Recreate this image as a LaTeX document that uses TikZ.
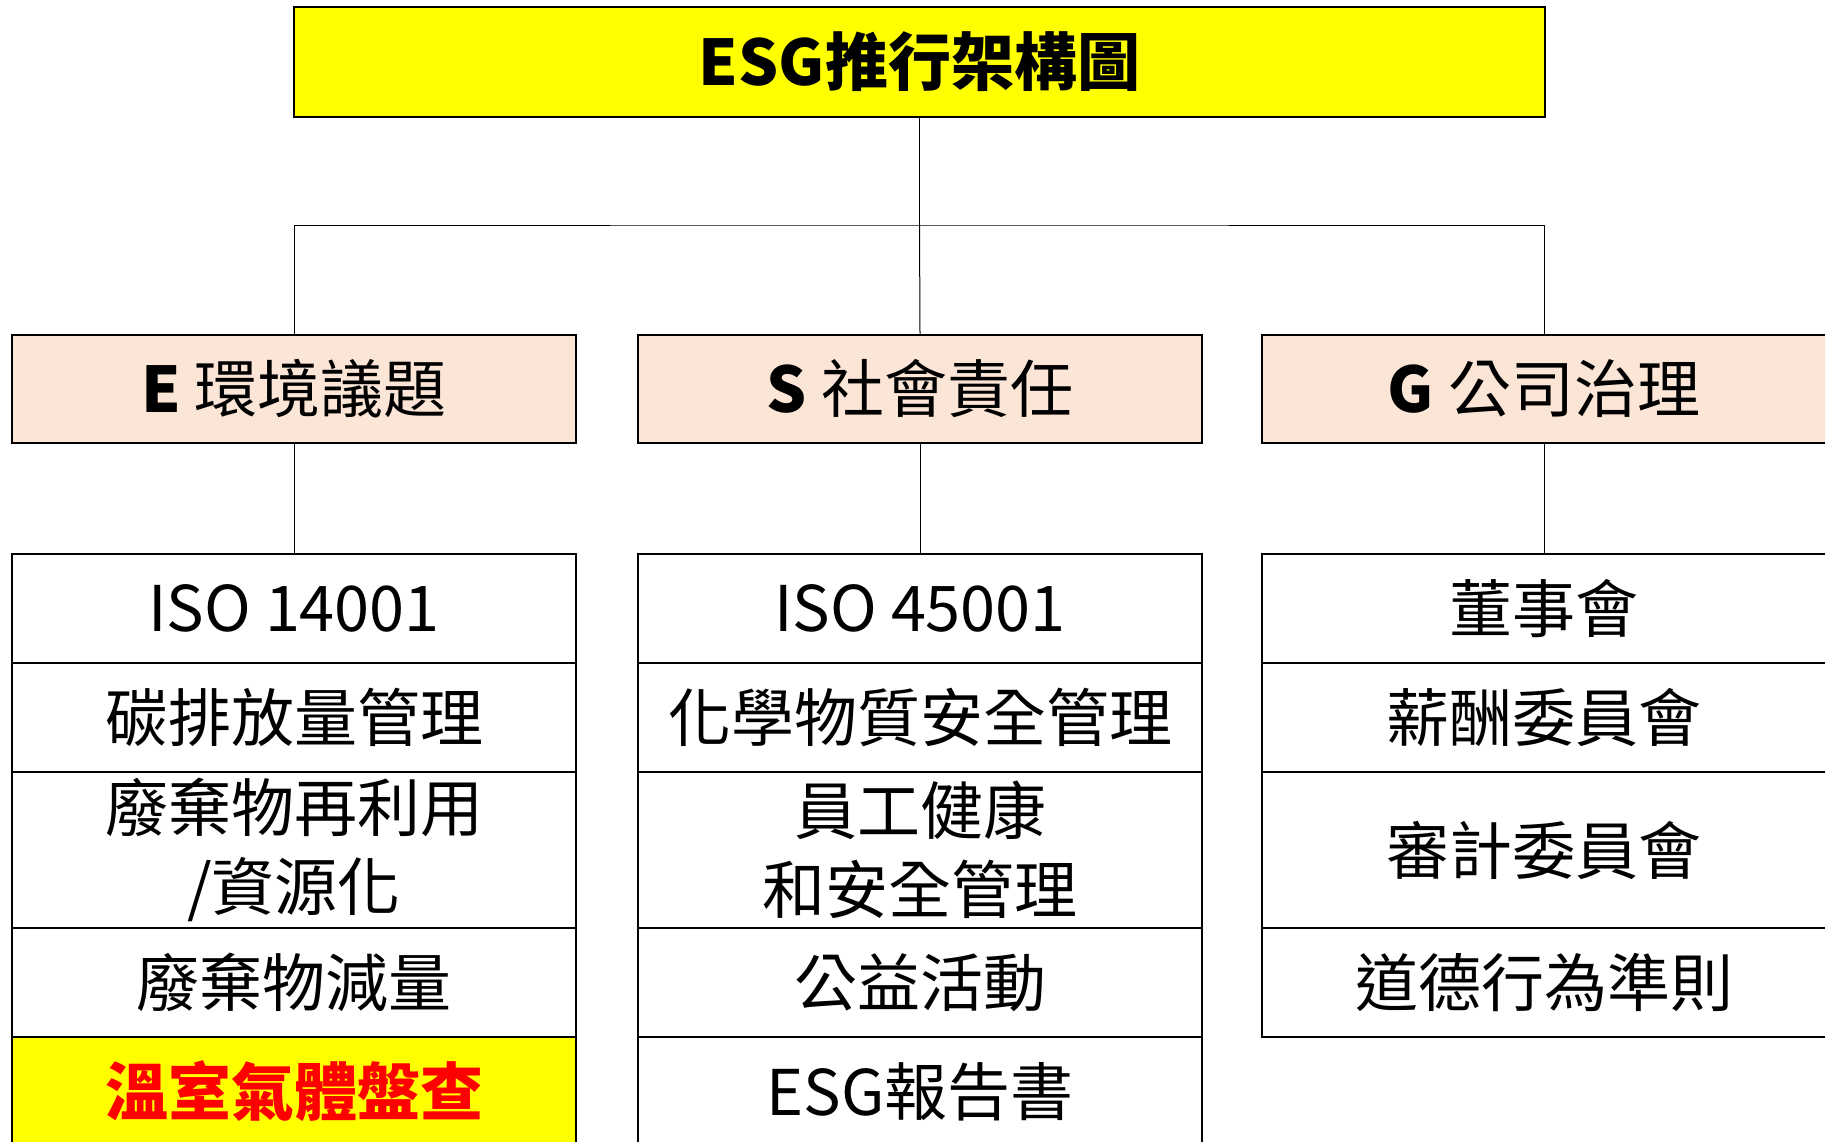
\documentclass[tikz,border=0pt]{standalone}
\usepackage{fontspec}
\setmainfont{Noto Sans CJK TC}
\definecolor{esgyellow}{HTML}{FFFF00}
\definecolor{esgpeach}{HTML}{FBE5D6}
\definecolor{esgred}{HTML}{FF0000}
\newcommand\esgfont{\fontsize{63}{79}\selectfont}
\tikzset{
  box/.style={draw, line width=2pt, inner sep=0pt, minimum width=564pt,
    align=center, font=\esgfont},
  cell/.style={box, anchor=north, minimum height=109pt},
  tallcell/.style={box, anchor=north, minimum height=156pt},
  head/.style={box, fill=esgpeach, minimum height=108pt},
  link/.style={line width=1pt}
}
\begin{document}
\begin{tikzpicture}[x=1pt, y=-1pt]
\useasboundingbox (0,0) rectangle (1825,1142);
% title
\node[box, fill=esgyellow, minimum width=1251pt, minimum height=110pt,
  font=\esgfont\bfseries] (title) at (919.5,62) {ESG推行架構圖};
% second row
\node[head] (e) at (294,389) {\textbf{E} 環境議題};
\node[head] (s) at (920,389) {\textbf{S} 社會責任};
\node[head] (g) at (1544,389) {\textbf{G} 公司治理};
% E column
\node[cell] (e1) at (294,553) {ISO 14001};
\node[cell] (e2) at (294,662) {碳排放量管理};
\node[tallcell] (e3) at (294,771) {廢棄物再利用\\/資源化};
\node[cell] (e4) at (294,927) {廢棄物減量};
\node[cell, fill=esgyellow, text=esgred, font=\esgfont\bfseries] (e5) at (294,1036) {溫室氣體盤查};
% S column
\node[cell] (s1) at (920,553) {ISO 45001};
\node[cell] (s2) at (920,662) {化學物質安全管理};
\node[tallcell] (s3) at (920,771) {員工健康\\和安全管理};
\node[cell] (s4) at (920,927) {公益活動};
\node[cell] (s5) at (920,1036) {ESG報告書};
% G column
\node[cell] (g1) at (1544,553) {董事會};
\node[cell] (g2) at (1544,662) {薪酬委員會};
\node[tallcell] (g3) at (1544,771) {審計委員會};
\node[cell] (g4) at (1544,927) {道德行為準則};

% connectors
\coordinate (bar) at (919.5,225);
\draw[link] (title.south) -- (bar);
\draw[link] (e.north) |- (bar) -| (g.north);
\draw[link] (s.north) -- (bar);
\foreach \c in {e,s,g}
{
  \draw[link] (\c.south) -- (\c1.north);
}
\end{tikzpicture}
\end{document}
